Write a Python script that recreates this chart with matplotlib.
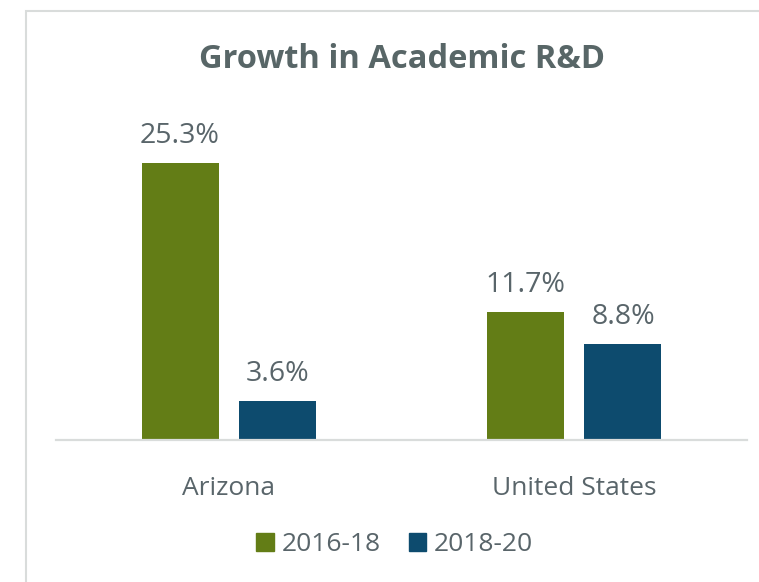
import matplotlib
matplotlib.use("Agg")
import matplotlib.pyplot as plt
import numpy as np
from matplotlib.patches import Patch, Rectangle

plt.rcParams['font.family'] = ['Open Sans', 'DejaVu Sans']

# ── data ──
categories = ['Arizona', 'United States']
series = ['2016-18', '2018-20']
growth_1618 = [25.3, 11.7]
growth_1820 = [3.6, 8.8]

colors = ['#637D16', '#0D4B6E']
text_color = '#59656A'
line_color = '#D9DCDB'

fig = plt.figure(figsize=(7.59, 5.82), dpi=100)
ax = fig.add_axes([0.0738, 0.244, 0.9104, 0.5644])

x = np.arange(len(categories))
width = 0.223
offset = 0.141

for vals, off, col in [(growth_1618, -offset, colors[0]), (growth_1820, offset, colors[1])]:
    bars = ax.bar(x + off, vals, width, color=col)
    for b, v in zip(bars, vals):
        ax.annotate(f'{v:.1f}%', (b.get_x() + b.get_width() / 2, v),
                    xytext=(0, 14.4), textcoords='offset points',
                    ha='center', va='baseline', fontsize=20.5, color=text_color)

ax.set_xlim(-0.5, 1.5)
ax.set_ylim(0, 30)
ax.set_yticks([])
for s in ['top', 'right', 'left']:
    ax.spines[s].set_visible(False)
ax.spines['bottom'].set_color(line_color)
ax.spines['bottom'].set_linewidth(1.6)
ax.set_xticks(x, categories)
ax.tick_params(axis='x', length=0, pad=39.6, labelsize=19, labelcolor=text_color)
plt.setp(ax.get_xticklabels(), va='baseline')

fig.text(0.529, 0.883, 'Growth in Academic R&D', ha='center', va='baseline',
         fontsize=23.5, fontweight='bold', color='#586667')

handles = [Patch(color=c) for c in colors]
fig.legend(handles, series, loc='center', bbox_to_anchor=(0.52, 0.0636), ncol=2,
           frameon=False, fontsize=19, labelcolor=text_color,
           handlelength=0.65, handleheight=0.65, handletextpad=0.3,
           columnspacing=1.06)

# chart border (extends past the image on the right / bottom)
fig.patches.append(Rectangle((26 / 759, -0.1), 1.2, 0.981 + 0.1,
                             transform=fig.transFigure, fill=False,
                             edgecolor=line_color, linewidth=1.5))

fig.savefig('out.png', dpi=100)
